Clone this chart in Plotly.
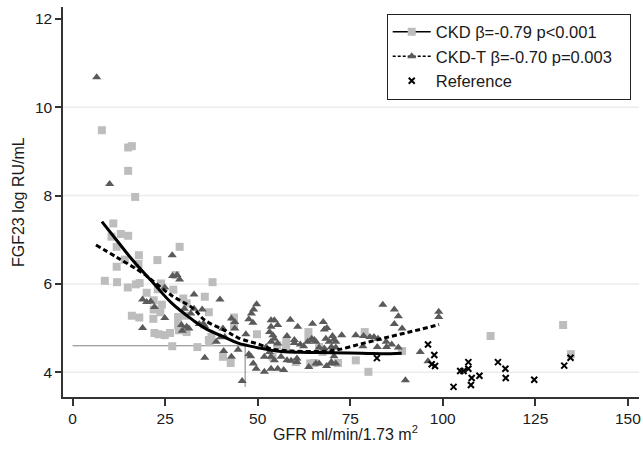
import plotly.graph_objects as go

# ---- data ----
ckd_x = [7.9, 15.0, 16.0, 15.0, 16.9, 11.0, 10.5, 13.0, 15.0, 11.9, 17.9, 17.8, 14.1, 22.9, 28.9,
         11.9, 8.7, 12.0, 14.9, 17.1, 18.1, 20.0, 23.9, 23.0, 21.9, 24.1, 21.9, 16.0, 18.0, 21.8,
         23.7, 22.1, 23.2, 24.9, 26.3, 26.9, 27.8, 37.8, 27.2, 35.7, 29.9, 30.8, 36.8, 30.3, 28.5,
         43.6, 28.5, 28.7, 30.8, 43.6, 49.8, 37.0, 37.5, 36.8, 33.7, 40.6, 42.7, 57.7, 57.7, 63.7,
         63.7, 66.6, 67.5, 60.3, 64.2, 65.3, 71.7, 76.5, 78.9, 79.9, 89.0, 54.0, 55.3, 112.9, 132.5, 134.6]
ckd_y = [9.48, 9.09, 9.12, 8.56, 7.97, 7.37, 7.07, 7.13, 7.09, 6.84, 6.65, 6.45, 6.55, 6.54, 6.84,
         6.39, 6.07, 6.04, 5.92, 5.99, 6.02, 5.80, 6.01, 5.88, 5.63, 5.53, 5.42, 5.28, 5.24, 5.21,
         5.36, 4.89, 4.86, 4.84, 4.89, 4.59, 6.20, 6.04, 5.87, 5.71, 5.67, 5.56, 5.36, 5.28, 5.25,
         5.24, 5.07, 4.95, 4.91, 5.05, 4.86, 4.69, 4.80, 4.73, 4.57, 4.35, 4.21, 4.69, 4.57, 4.91,
         4.74, 4.57, 4.46, 4.23, 4.20, 4.21, 4.21, 4.27, 4.91, 4.01, 4.48, 4.35, 4.61, 4.82, 5.07, 4.41]

ckdt_x = [6.5, 10.0, 26.9, 24.9, 18.9, 20.0, 21.1, 22.1, 24.9, 18.9, 27.0, 28.9, 28.2, 32.8, 39.8,
          30.2, 32.8, 35.0, 31.9, 49.7, 48.9, 48.3, 47.6, 42.9, 43.8, 48.7, 29.4, 30.8, 35.7, 34.2,
          35.3, 29.6, 31.4, 40.6, 43.8, 46.8, 41.1, 40.0, 38.8, 44.7, 40.8, 35.7, 42.9, 47.6, 48.8,
          48.1, 45.8,
          53.6, 54.5, 55.4, 53.6, 53.2, 54.1, 54.5, 53.6, 55.4, 52.3, 53.2, 51.8, 53.6, 54.5, 49.6,
          51.8, 53.6, 55.4,
          83.8, 58.8, 60.8, 64.8, 67.7, 68.0, 68.7, 57.9, 59.9, 59.9, 61.5, 62.4, 63.5, 64.6, 65.3,
          65.7, 66.6, 68.4, 69.3, 70.2, 70.6, 71.1, 72.7, 76.5, 78.6, 80.3, 81.4, 82.5, 78.4, 82.3,
          84.8, 68.0, 69.9, 71.1, 56.3, 57.9, 59.0, 60.6, 60.6, 70.6, 69.9, 71.1, 63.8, 65.7, 66.6,
          68.6, 69.8, 57.0, 84.7,
          86.9, 88.0, 86.9, 89.0, 98.9, 98.9, 93.9, 89.9, 88.0, 86.2, 96.0]
ckdt_y = [10.68, 8.26, 6.65, 5.92, 5.65, 5.59, 5.60, 5.48, 5.23, 5.00, 6.18, 6.10, 6.20, 5.76, 5.65,
          5.44, 5.44, 5.42, 5.33, 5.54, 5.42, 5.33, 5.20, 5.22, 5.14, 5.12, 5.07, 5.03, 5.04, 5.09,
          5.10, 4.94, 4.99, 4.99, 4.99, 4.86, 4.80, 4.79, 4.69, 4.51, 4.48, 4.33, 4.35, 4.41, 4.20,
          4.36, 3.80,
          5.18, 5.18, 5.07, 5.03, 4.91, 4.84, 4.76, 4.69, 4.65, 4.57, 4.46, 4.35, 4.35, 4.27, 4.08,
          4.01, 4.08, 4.08,
          5.53, 5.19, 5.03, 5.10, 5.14, 4.97, 5.00, 4.82, 4.73, 4.66, 4.63, 4.59, 4.69, 4.76, 4.73,
          4.69, 4.56, 4.76, 4.69, 4.82, 4.74, 4.69, 4.84, 4.84, 4.82, 4.80, 4.80, 4.76, 4.59, 4.57,
          4.57, 4.54, 4.57, 4.56, 4.35, 4.27, 4.26, 4.31, 4.23, 4.36, 4.23, 4.20, 4.12, 4.20, 4.20,
          4.14, 4.20, 4.05, 4.69,
          5.42, 5.27, 5.09, 4.99, 5.37, 5.25, 4.46, 3.82, 4.56, 4.63, 4.25]

ref_x = [82.2, 96.0, 97.7, 97.0, 97.9, 102.9, 104.7, 105.6, 106.9, 106.9, 107.8, 107.6, 109.9,
         114.9, 116.9, 117.0, 124.7, 132.8, 134.5]
ref_y = [4.32, 4.63, 4.39, 4.18, 4.14, 3.67, 4.03, 4.03, 4.23, 4.08, 3.87, 3.71, 3.92,
         4.23, 4.08, 3.87, 3.83, 4.15, 4.33]

fit_ckd_x = [7.9, 11.9, 16.0, 21.5, 26.7, 32.5, 35.7, 41.4, 44.7, 50.4, 56.3, 63.8, 69.8, 78.0, 85.9, 88.9]
fit_ckd_y = [7.41, 6.99, 6.56, 6.05, 5.57, 5.18, 5.00, 4.78, 4.66, 4.55, 4.47, 4.45, 4.44, 4.43, 4.42, 4.43]

fit_ckdt_x = [6.3, 12.0, 19.0, 21.5, 26.7, 32.5, 35.7, 41.5, 44.7, 50.4, 53.6, 59.4, 66.0, 71.0, 78.7, 85.9, 92.4, 99.0]
fit_ckdt_y = [6.88, 6.60, 6.24, 6.08, 5.74, 5.45, 5.18, 4.93, 4.78, 4.63, 4.53, 4.48, 4.47, 4.50, 4.66, 4.81, 4.94, 5.08]

cut_h_x = [0, 46.6]
cut_h_y = [4.60, 4.60]
cut_v_x = [46.6, 46.6]
cut_v_y = [4.60, 3.67]

grid_y = [4, 6, 8, 10]
x_ticks = [0, 25, 50, 75, 100, 125, 150]
y_ticks = [4, 6, 8, 10, 12]

labels = ["CKD \u03b2=-0.79 p<0.001", "CKD-T \u03b2=-0.70 p=0.003", "Reference"]
x_title = "GFR ml/min/1.73 m<sup>2</sup>"
y_title = "FGF23 log RU/mL"

SQ = "#bdbdbd"
TRI = "#5a5a5a"
FONT = "Liberation Sans, Arial, sans-serif"
PAD = "\u00a0" * 6

fig = go.Figure()

# cut-off reference lines
fig.add_trace(go.Scatter(x=cut_h_x, y=cut_h_y, mode="lines", line=dict(color="#808080", width=1),
                         showlegend=False, hoverinfo="skip"))
fig.add_trace(go.Scatter(x=cut_v_x, y=cut_v_y, mode="lines", line=dict(color="#808080", width=1),
                         showlegend=False, hoverinfo="skip"))

fig.add_trace(go.Scatter(x=ckd_x, y=ckd_y, mode="markers",
                         marker=dict(symbol="square", size=8, color=SQ), showlegend=False))
fig.add_trace(go.Scatter(x=ckdt_x, y=ckdt_y, mode="markers",
                         marker=dict(symbol="triangle-up", size=8, color=TRI), showlegend=False))
fig.add_trace(go.Scatter(x=ref_x, y=ref_y, mode="markers",
                         marker=dict(symbol="x-thin", size=6, line=dict(width=2, color="black")),
                         showlegend=False))

fig.add_trace(go.Scatter(x=fit_ckd_x, y=fit_ckd_y, mode="lines", line=dict(color="black", width=3, shape="spline"),
                         showlegend=False))
fig.add_trace(go.Scatter(x=fit_ckdt_x, y=fit_ckdt_y, mode="lines",
                         line=dict(color="black", width=3, dash="5px,3px", shape="spline"), showlegend=False))

# legend entries
fig.add_trace(go.Scatter(x=[None], y=[None], mode="lines+markers", name=labels[0] + PAD,
                         line=dict(color="black", width=1.5),
                         marker=dict(symbol="square", size=8, color=SQ)))
fig.add_trace(go.Scatter(x=[None], y=[None], mode="lines+markers", name=labels[1],
                         line=dict(color="black", width=1.5, dash="3px,2px"),
                         marker=dict(symbol="triangle-up", size=8, color=TRI)))
fig.add_trace(go.Scatter(x=[None], y=[None], mode="markers", name=labels[2],
                         marker=dict(symbol="x-thin", size=6, line=dict(width=2, color="black"))))

for g in grid_y:
    fig.add_shape(type="line", xref="paper", x0=0, x1=1, yref="y", y0=g, y1=g,
                  line=dict(color="#ececec", width=1.5), layer="below")

# axis titles placed as annotations
fig.add_annotation(text=x_title, xref="paper", yref="paper", x=0.49, y=-0.062,
                   xanchor="center", yanchor="top", showarrow=False, font=dict(size=16))
fig.add_annotation(text=y_title, xref="paper", yref="paper", x=-0.078, y=0.5,
                   xanchor="center", yanchor="middle", textangle=-90, showarrow=False, font=dict(size=16))

fig.update_layout(
    width=643, height=450,
    margin=dict(l=63, r=4, t=7, b=53, autoexpand=False),
    paper_bgcolor="white", plot_bgcolor="white",
    font=dict(family=FONT, size=15.5, color="#1a1a1a"),
    showlegend=True,
    legend=dict(x=0.562, y=0.983, xanchor="left", yanchor="top",
                bgcolor="white", bordercolor="#222", borderwidth=1, itemwidth=38,
                font=dict(size=16.5), tracegroupgap=0),
    xaxis=dict(range=[-2.6, 153.0], tickvals=x_ticks, showgrid=False, zeroline=False, automargin=False,
               showline=True, linecolor="#333", linewidth=1.5,
               ticks="outside", ticklen=7, tickcolor="#333", tickwidth=1.5),
    yaxis=dict(range=[3.44, 12.27], tickvals=y_ticks, showgrid=False, zeroline=False, automargin=False,
               showline=True, linecolor="#333", linewidth=1.5,
               ticks="outside", ticklen=6, tickcolor="#333", tickwidth=1.5),
)

fig.write_html("out.html", config={"displayModeBar": False},
               post_script="document.body.style.margin='0';document.body.style.padding='0';")
